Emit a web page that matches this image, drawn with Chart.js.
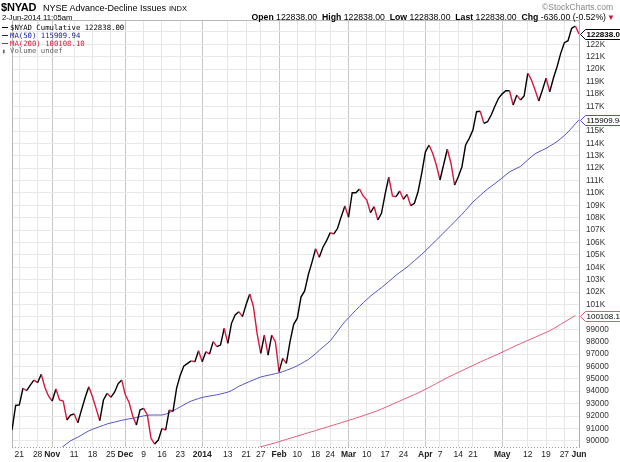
<!DOCTYPE html>
<html><head><meta charset="utf-8">
<script src="https://cdn.jsdelivr.net/npm/chart.js@4.4.1/dist/chart.umd.min.js"></script>
<style>
html,body{margin:0;padding:0;background:#fff;}
#wrap{position:relative;width:620px;height:462px;overflow:hidden;font-family:"Liberation Sans",Arial,sans-serif;color:#000;}
#c{position:absolute;left:0;top:0;}
.t{position:absolute;white-space:nowrap;line-height:1;}
.lg{position:absolute;left:2px;white-space:nowrap;line-height:1;font-family:"DejaVu Sans Mono","Liberation Mono",monospace;font-size:7.3px;}
.lg i{display:inline-block;width:6px;height:1.5px;vertical-align:middle;margin-right:2px;}
b{font-weight:bold;}
</style></head><body>
<div id="wrap">
<canvas id="c" width="620" height="462"></canvas>
<div class="t" style="left:1px;top:2px;font-size:11px;font-weight:bold;letter-spacing:-0.2px;">$NYAD</div>
<div class="t" style="left:43px;top:3.5px;font-size:9px;">NYSE Advance-Decline Issues</div>
<div class="t" style="left:169px;top:5px;font-size:7.5px;">INDX</div>
<div class="t" style="left:2px;top:13.5px;font-size:7.7px;">2-Jun-2014 11:05am</div>
<div class="t" style="right:7px;top:3px;font-size:8.5px;color:#888;">©StockCharts.com</div>
<div class="t" style="right:14px;top:13px;font-size:8.7px;"><b>Open</b> 122838.00&nbsp; <b>High</b> 122838.00&nbsp; <b>Low</b> 122838.00&nbsp; <b>Last</b> 122838.00&nbsp; <b>Chg</b> -636.00 (-0.52%)</div>
<div class="t" style="left:607px;top:14px;font-size:8px;color:#d0103a;">▼</div>
<div class="lg" style="top:23.5px;"><i style="background:#000"></i><span id="lg0"></span></div>
<div class="lg" style="top:31.5px;color:#1818a0;"><i style="background:#1818a0"></i><span id="lg1"></span></div>
<div class="lg" style="top:39.5px;color:#e0103c;"><i style="background:#e0103c"></i><span id="lg2"></span></div>
<div class="lg" style="top:47px;color:#666;"><span style="display:inline-block;width:6px;margin-right:2px;font-size:6px;">▮</span>Volume undef</div>
</div>
<script>
// ---- categories: trading days ----
const tradingDays = {
  "2013-10": [17,18,21,22,23,24,25,28,29,30,31],
  "2013-11": [1,4,5,6,7,8,11,12,13,14,15,18,19,20,21,22,25,26,27,29],
  "2013-12": [2,3,4,5,6,9,10,11,12,13,16,17,18,19,20,23,24,26,27,30,31],
  "2014-01": [2,3,6,7,8,9,10,13,14,15,16,17,21,22,23,24,27,28,29,30,31],
  "2014-02": [3,4,5,6,7,10,11,12,13,14,18,19,20,21,24,25,26,27,28],
  "2014-03": [3,4,5,6,7,10,11,12,13,14,17,18,19,20,21,24,25,26,27,28,31],
  "2014-04": [1,2,3,4,7,8,9,10,11,14,15,16,17,21,22,23,24,25,28,29,30],
  "2014-05": [1,2,5,6,7,8,9,12,13,14,15,16,19,20,21,22,23,27,28,29,30],
  "2014-06": [2]
};
const dates = [];
for (const m in tradingDays) tradingDays[m].forEach(d => dates.push(m + "-" + String(d).padStart(2, "0")));

// ---- $NYAD cumulative ----
const nyad = [
  90870,92850,92890,94240,94040,94500,94900,94690,95370,94300,
  93600,93210,94180,93290,93210,91680,92080,92160,91460,92500,
  93500,94360,93560,92600,91620,93290,93830,93510,93900,94600,
  94900,93700,93100,92000,91270,92490,92620,92080,90200,89740,
  90060,91000,90870,92490,92350,94250,95300,96050,96250,96450,
  96380,97270,96380,97190,97000,98000,97600,97730,99080,97870,
  99480,100150,100420,100020,101000,101850,100820,98670,97060,98520,
  96920,98520,98000,95580,96650,96250,98000,99400,99900,101600,
  102100,103400,104400,105500,104810,105620,106150,106800,106690,107150,
  108090,108950,108040,110020,110020,110320,109760,109430,108410,108890,
  107820,108360,109900,111270,109760,109700,110160,109490,109890,108970,
  109170,110100,111590,113300,113870,113200,112260,111050,112300,113530,
  112400,110640,111310,112120,113870,114410,115080,116560,116600,115620,
  115750,116290,117000,117640,118000,118250,118250,117100,117900,117500,
  117830,119660,119120,118310,117420,118310,119260,118170,119260,120190,
  121270,122130,122290,123290,123474,122838
];

// ---- MA(50) ----
const ma50From = "2013-11-04";
const ma50 = [
  89100,89300,89550,89780,90000,90150,90290,90460,90640,90800,
  90930,91040,91150,91250,91360,91440,91510,91580,91660,91710,
  91770,91810,91880,91950,92010,92060,92080,92080,92080,92080,
  92150,92270,92420,92580,92740,92900,93070,93210,93310,93410,
  93500,93560,93610,93660,93710,93780,93850,93930,94050,94220,
  94400,94530,94660,94790,94910,95030,95150,95220,95290,95350,
  95420,95490,95580,95690,95800,95920,96050,96220,96390,96560,
  96790,97030,97300,97560,97800,98060,98450,98850,99250,99620,
  99920,100240,100550,100840,101130,101410,101680,101910,102140,102360,
  102610,102860,103110,103370,103590,103800,104020,104270,104530,104790,
  105050,105330,105620,105910,106200,106490,106780,107080,107380,107680,
  107980,108280,108600,108940,109270,109540,109800,110070,110320,110540,
  110760,110980,111220,111460,111700,111850,112000,112140,112400,112670,
  112930,113160,113320,113460,113600,113780,113960,114150,114390,114640,
  114920,115240,115580,115909.94
];

// ---- MA(200) ----
const ma200From = "2014-01-17";
const ma200 = [
  89120,89200,89280,89360,89440,89520,89600,89680,89760,89840,
  89930,90020,90110,90200,90290,90380,90470,90560,90650,90740,
  90830,90920,91010,91100,91190,91280,91370,91460,91550,91640,
  91730,91830,91930,92030,92130,92230,92330,92440,92560,92690,
  92820,92950,93080,93210,93340,93470,93600,93730,93860,94010,
  94160,94310,94460,94620,94780,94940,95100,95240,95380,95520,
  95660,95800,95940,96080,96220,96360,96490,96620,96750,96880,
  97010,97150,97290,97430,97570,97710,97840,97970,98100,98230,
  98360,98490,98620,98750,98880,99050,99220,99400,99580,99760,
  99940,100108.10
];

// ---- axis labels ----
const tickDates = ["2013-10-21","2013-10-28","2013-11-01","2013-11-11","2013-11-18","2013-11-25",
  "2013-12-02","2013-12-09","2013-12-16","2013-12-23","2014-01-02","2014-01-13","2014-01-21",
  "2014-01-27","2014-02-03","2014-02-10","2014-02-18","2014-02-24","2014-03-03","2014-03-10",
  "2014-03-17","2014-03-24","2014-04-01","2014-04-07","2014-04-14","2014-04-21","2014-05-01",
  "2014-05-12","2014-05-19","2014-05-27","2014-06-02"];
const tickText = ["21","28","Nov","11","18","25","Dec","9","16","23","2014","13","21","27","Feb","10",
  "18","24","Mar","10","17","24","Apr","7","14","21","May","12","19","27","Jun"];
const monthLabels = ["Nov","Dec","2014","Feb","Mar","Apr","May","Jun"];
const yTicks = [90000,91000,92000,93000,94000,95000,96000,97000,98000,99000,100000,101000,102000,
  103000,104000,105000,106000,107000,108000,109000,110000,111000,112000,113000,114000,115000,
  116000,117000,118000,119000,120000,121000,122000,123000];

// ---- build ----
const FONT = '"Liberation Sans", Arial, sans-serif';
const tickIdx = tickDates.map(d => dates.indexOf(d));
const labelAt = {}; tickIdx.forEach((ix, k) => labelAt[ix] = tickText[k]);
const isMonth = ix => monthLabels.includes(labelAt[ix]);
const s50 = dates.indexOf(ma50From), s200 = dates.indexOf(ma200From);
const pts = (arr, s) => arr.map((v, k) => ({x: k + s, y: v}));

const RED = '#d8183f', BLUE = '#5252c4', PINK = '#e65a78';
const lastN = nyad[nyad.length - 1], last50 = ma50[ma50.length - 1], last200 = ma200[ma200.length - 1];
document.getElementById('lg0').textContent = '$NYAD Cumulative ' + lastN.toFixed(2);
document.getElementById('lg1').textContent = 'MA(50) ' + last50.toFixed(2);
document.getElementById('lg2').textContent = 'MA(200) ' + last200.toFixed(2);

const frame = {
  id: 'frame',
  beforeDatasetsDraw(chart) {
    const {ctx, chartArea: a} = chart;
    ctx.save();
    ctx.strokeStyle = '#b8b8b8'; ctx.lineWidth = 1;
    ctx.beginPath();
    ctx.moveTo(a.left + 0.5, a.bottom); ctx.lineTo(a.left + 0.5, a.top + 0.5); ctx.lineTo(a.right, a.top + 0.5);
    ctx.stroke();
    ctx.strokeStyle = '#999'; ctx.setLineDash([1, 2]);
    ctx.beginPath();
    ctx.moveTo(a.left, a.bottom + 0.5); ctx.lineTo(a.right, a.bottom + 0.5);
    ctx.stroke();
    ctx.restore();
  },
  afterDraw(chart) {
    const {ctx} = chart, y = chart.scales.y, a = chart.chartArea;
    const boxes = [
      {v: last200, c: PINK, bold: false},
      {v: last50, c: BLUE, bold: false},
      {v: lastN, c: '#000', bold: true}
    ];
    ctx.save();
    boxes.forEach(b => {
      const py = Math.round(y.getPixelForValue(b.v)) + 0.5, x0 = a.right + 1.5;
      ctx.beginPath();
      ctx.moveTo(x0, py); ctx.lineTo(x0 + 5, py - 5); ctx.lineTo(625, py - 5);
      ctx.lineTo(625, py + 5); ctx.lineTo(x0 + 5, py + 5); ctx.closePath();
      ctx.fillStyle = '#fff'; ctx.fill();
      ctx.strokeStyle = b.c; ctx.lineWidth = 1; ctx.stroke();
      ctx.fillStyle = '#000';
      ctx.font = (b.bold ? 'bold ' : '') + '8px ' + FONT;
      ctx.textBaseline = 'middle'; ctx.textAlign = 'left';
      ctx.fillText(b.v.toFixed(2), x0 + 6, py + 0.5);
    });
    ctx.restore();
  }
};

new Chart(document.getElementById('c'), {
  type: 'line',
  data: {
    datasets: [
      {label: '$NYAD', data: pts(nyad, 0), borderColor: '#000', borderWidth: 1.4, pointRadius: 0, tension: 0,
       segment: {borderColor: c => c.p1.parsed.y < c.p0.parsed.y ? RED : '#000'}},
      {label: 'MA(50)', data: pts(ma50, s50), borderColor: BLUE, borderWidth: 1, pointRadius: 0, tension: 0},
      {label: 'MA(200)', data: pts(ma200, s200), borderColor: PINK, borderWidth: 1, pointRadius: 0, tension: 0}
    ]
  },
  options: {
    responsive: false, animation: false, events: [],
    layout: {padding: {left: 12, top: 20, right: 0, bottom: 0}},
    plugins: {legend: {display: false}, tooltip: {enabled: false}},
    scales: {
      x: {
        type: 'linear', min: 0, max: dates.length - 1, offset: false,
        afterBuildTicks: ax => { ax.ticks = tickIdx.map(v => ({value: v})); },
        afterFit: ax => { ax.height = 15; },
        ticks: {
          autoSkip: false, maxRotation: 0, padding: 3, color: '#222',
          font: c => ({family: FONT, size: 8.5, weight: (c.tick && isMonth(c.tick.value)) ? 'bold' : 'normal'}),
          callback: v => labelAt[v] || ''
        },
        grid: {color: c => (c.tick && isMonth(c.tick.value)) ? '#c6c6c6' : '#e6e6e6', drawTicks: false, lineWidth: 1},
        border: {display: false}
      },
      y: {
        position: 'right', min: 89500, max: 123960,
        afterBuildTicks: ax => { ax.ticks = yTicks.map(v => ({value: v})); },
        afterFit: ax => { ax.width = 41; },
        ticks: {
          autoSkip: false, padding: 7, color: '#333', font: {family: FONT, size: 8.2},
          callback: v => v === 123000 ? '' : (v >= 101000 ? (v / 1000) + 'K' : String(v))
        },
        grid: {color: '#e8e8e8', drawTicks: false},
        border: {display: true, color: '#b0b0b0'}
      }
    }
  },
  plugins: [frame]
});
</script>
</body></html>
